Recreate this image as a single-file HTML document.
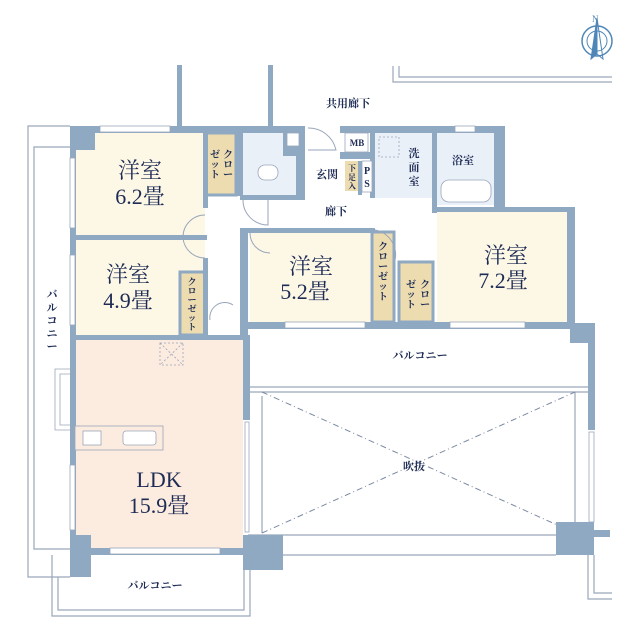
<!DOCTYPE html>
<html><head><meta charset="utf-8"><style>
html,body{margin:0;padding:0;background:#fff}
svg{display:block}
text{font-family:"Liberation Serif","Noto Serif CJK SC",serif;fill:#1e2c55}
.s{font-family:"Liberation Serif","Noto Serif CJK SC",serif;font-weight:bold}
</style></head><body>
<svg width="640" height="640" viewBox="0 0 640 640" xmlns="http://www.w3.org/2000/svg">
<g fill="none" stroke="#9aa6bb" stroke-width="1.2">
<path d="M70 126 H28 V577 H70"/><path d="M70 147 H34 V549 H70"/>
<path d="M52 555 V616 H250 V555"/><path d="M58 577 V610 H244 V570"/>
<path d="M393 66 V82 H612"/><path d="M399 66 V77 H612"/>
<path d="M248 387 H590 M248 392 H590"/>
<path d="M248 535 H556 M248 555 H556"/>
<path d="M575 392 V522"/>
<path d="M588 555 V599 H612 M594 555 V593 H612"/>
<path d="M262 396 V533"/>
</g>
<g stroke="#7c8aa3" stroke-width="1" stroke-dasharray="6,3,1,3" fill="none">
<path d="M262 392 L575 533 M262 533 L575 392"/>
</g>
<rect x="76" y="133" width="129" height="102" fill="#fdf8e6"/>
<rect x="76" y="240" width="129" height="95" fill="#fdf8e6"/>
<rect x="205" y="133" width="31" height="62" fill="#ecdcb0" stroke="#8fa9c2" stroke-width="3"/>
<rect x="180" y="272" width="25" height="63" fill="#ecdcb0" stroke="#8fa9c2" stroke-width="3"/>
<rect x="240" y="133" width="63" height="64" fill="#eaf0f8"/>
<rect x="375" y="133" width="58" height="65" fill="#eaf0f8"/>
<rect x="437" y="133" width="57" height="72" fill="#eaf0f8"/>
<rect x="250" y="232" width="120" height="90" fill="#fdf8e6"/>
<rect x="437" y="212" width="130" height="110" fill="#fdf8e6"/>
<rect x="372" y="232" width="22" height="90" fill="#ecdcb0" stroke="#8fa9c2" stroke-width="3"/>
<rect x="399" y="262" width="34" height="60" fill="#ecdcb0" stroke="#8fa9c2" stroke-width="3"/>
<rect x="345" y="161" width="13" height="30" fill="#ecdcb0"/>
<rect x="75" y="340" width="168" height="208" fill="#fcebdf"/>
<g fill="#8fa9c2">
<rect x="177" y="65" width="5" height="65"/><rect x="268" y="65" width="5" height="65"/>
<rect x="70" y="126" width="235" height="7"/>
<rect x="70" y="126" width="25" height="24"/>
<rect x="70" y="126" width="6" height="430"/>
<rect x="70" y="235" width="137" height="5"/>
<rect x="70" y="335" width="180" height="5"/>
<rect x="203" y="133" width="5" height="75"/>
<rect x="203" y="258" width="5" height="80"/>
<rect x="236" y="126" width="7" height="70"/>
<rect x="283" y="126" width="22" height="30"/>
<rect x="296" y="133" width="9" height="65"/>
<rect x="240" y="195" width="65" height="5"/>
<rect x="340" y="126" width="165" height="7"/>
<rect x="340" y="152" width="35" height="7"/>
<rect x="370" y="133" width="5" height="65"/>
<rect x="358" y="161" width="4" height="34"/>
<rect x="432" y="133" width="5" height="80"/>
<rect x="494" y="126" width="11" height="81"/>
<rect x="432" y="207" width="143" height="5"/>
<rect x="567" y="207" width="8" height="122"/>
<rect x="240" y="228" width="135" height="5"/>
<rect x="240" y="228" width="8" height="110"/>
<rect x="240" y="322" width="335" height="7"/>
<rect x="243" y="340" width="7" height="80"/>
<rect x="570" y="323" width="25" height="20"/>
<rect x="588" y="330" width="7" height="100"/>
<rect x="70" y="548" width="180" height="7"/>
<rect x="70" y="535" width="21" height="42"/>
<rect x="243" y="535" width="40" height="35"/>
<rect x="556" y="522" width="38" height="33"/>
<rect x="594" y="530" width="16" height="7"/>
</g>
<g fill="#fff" stroke="#9aa6bb" stroke-width="0.8">
<rect x="100" y="126" width="70" height="6"/><rect x="70" y="158" width="5" height="70"/>
<rect x="70" y="255" width="5" height="70"/><rect x="70" y="465" width="5" height="65"/>
<rect x="285" y="322" width="80" height="6"/><rect x="450" y="322" width="75" height="6"/>
<rect x="110" y="548" width="110" height="6"/>
<rect x="245" y="422" width="4" height="110"/><rect x="589" y="432" width="5" height="90"/>
<rect x="455" y="126" width="20" height="6"/>
<path d="M75 369 H55 V430 H75 M75 374 H60 V425 H75" fill="none"/>
<rect x="75" y="426" width="88" height="24" fill="#fcebdf"/>
<rect x="123" y="431" width="33" height="14" rx="3"/>
<rect x="83" y="431" width="18" height="14"/>
<rect x="160" y="343" width="23" height="22" stroke-dasharray="2,2" fill="none"/>
<path d="M160 343 L183 365 M183 343 L160 365" stroke-dasharray="2,2"/>
<rect x="379" y="137" width="20" height="20" stroke-dasharray="2,2" fill="none"/>
<rect x="441" y="180" width="50" height="22" rx="8"/>
<rect x="258" y="165" width="20" height="15" rx="7"/>
<rect x="287" y="133" width="12" height="13"/>
<rect x="345" y="133" width="23" height="19"/><rect x="362" y="161" width="10" height="31"/>
</g>
<g fill="none" stroke="#9aa6bb" stroke-width="1">
<path d="M205 215 A22 22 0 0 0 183 237 M183 238 A22 22 0 0 0 205 258"/>
<path d="M243 200 A25 25 0 0 0 268 225 V200"/>
<path d="M250 233 A20 20 0 0 0 270 253"/>
<path d="M233 305 A15 15 0 0 0 210 320"/>
<path d="M395 260 A25 25 0 0 0 375 230"/>
<path d="M308 128 A28 28 0 0 1 336 150 H308"/>
</g>
<g font-size="22" text-anchor="middle">
<text x="140" y="178">洋室</text>
<text x="140" y="204">6.2畳</text>
<text x="128" y="282">洋室</text>
<text x="128" y="308">4.9畳</text>
<text x="311" y="274">洋室</text>
<text x="305" y="299">5.2畳</text>
<text x="506" y="263">洋室</text>
<text x="503" y="288">7.2畳</text>
<text x="159" y="487">LDK</text>
<text x="159" y="513">15.9畳</text>
</g>
<g text-anchor="middle" font-size="11">
<text class="s" x="348" y="107">共用廊下</text>
<text class="s" x="336" y="215">廊下</text>
<text class="s" x="327" y="178">玄関</text>
<text class="s" x="463" y="164">浴室</text>
<text class="s" x="414" y="470">吹抜</text>
<text class="s" x="420" y="359">バルコニー</text>
<text class="s" x="155" y="589">バルコニー</text>
<text class="s" x="357" y="146" font-size="9">MB</text>
<text class="s" x="414" y="157">洗</text><text class="s" x="414" y="171">面</text><text class="s" x="414" y="185">室</text>
<text class="s" x="352" y="171" font-size="8">下</text><text class="s" x="352" y="180" font-size="8">足</text><text class="s" x="352" y="189" font-size="8">入</text>
<text class="s" x="367" y="174" font-size="10">P</text><text class="s" x="367" y="187" font-size="10">S</text>
<g font-size="10">
<text class="s" x="228" y="158">ク</text><text class="s" x="228" y="168">ロ</text><text class="s" x="228" y="178">ー</text>
<text class="s" x="215" y="158">ゼ</text><text class="s" x="215" y="168">ッ</text><text class="s" x="215" y="178">ト</text>
<text class="s" x="425" y="288">ク</text><text class="s" x="425" y="298">ロ</text><text class="s" x="425" y="308">ー</text>
<text class="s" x="411" y="288">ゼ</text><text class="s" x="411" y="298">ッ</text><text class="s" x="411" y="308">ト</text>
<text class="s" x="383" y="250">ク</text><text class="s" x="383" y="260">ロ</text><text class="s" x="383" y="270">ー</text><text class="s" x="383" y="280">ゼ</text><text class="s" x="383" y="290">ッ</text><text class="s" x="383" y="300">ト</text>
</g>
<g font-size="9">
<text class="s" x="192" y="285">ク</text><text class="s" x="192" y="294">ロ</text><text class="s" x="192" y="303">ー</text><text class="s" x="192" y="312">ゼ</text><text class="s" x="192" y="321">ッ</text><text class="s" x="192" y="330">ト</text>
</g>
<text class="s" x="52" y="298">バ</text><text class="s" x="52" y="311">ル</text><text class="s" x="52" y="324">コ</text><text class="s" x="52" y="337">ニ</text><text class="s" x="52" y="350">ー</text>
</g>
<g stroke="#4f86b8" fill="none">
<circle cx="597" cy="41" r="15" stroke-width="1.5"/>
<circle cx="597" cy="41" r="10" stroke-width="1"/>
<path d="M597 18 L591 59 L597 54 Z" fill="#4f86b8"/>
<path d="M597 18 L603 59 L597 54" stroke-width="1"/>
</g>
<text x="592" y="22" font-size="9" style="fill:#4f86b8">N</text>
</svg>
</body></html>
